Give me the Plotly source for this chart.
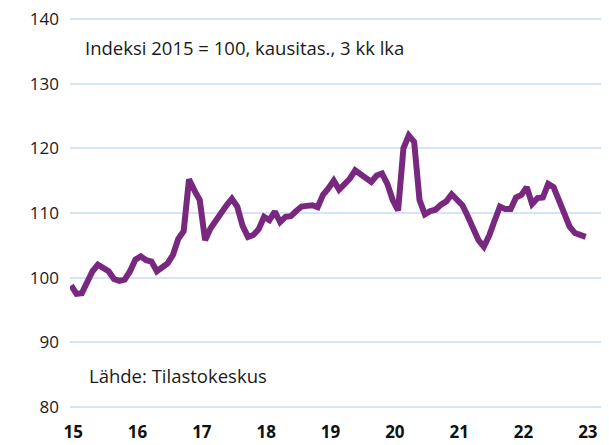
import plotly.graph_objects as go

# Kuukausittainen indeksi, tammikuu 2015 - tammikuu 2023 (2015 = 100)
index_values = [
    98.8, 97.5, 97.6, 99.5, 101.0, 102.0, 101.5, 101.0, 99.8, 99.5, 99.7, 101.0,
    102.8, 103.3, 102.7, 102.5, 101.0, 101.5, 102.2, 103.5, 106.0, 107.2, 115.2, 113.5,
    112.0, 105.8, 107.6, 108.8, 110.2, 111.2, 112.2, 111.0, 108.0, 106.3, 106.6, 107.5,
    109.4, 108.9, 110.2, 108.6, 109.4, 109.5, 110.3, 111.0, 111.1, 111.2, 110.9, 112.8,
    113.8, 115.0, 113.6, 114.5, 115.3, 116.6, 116.0, 115.3, 114.8, 115.8, 116.1, 114.5,
    112.0, 110.4, 120.0, 122.0, 121.0, 112.0, 109.8, 110.3, 110.5, 111.3, 111.8, 112.9,
    112.0, 111.2, 109.5, 107.5, 105.8, 104.8, 106.5, 108.8, 111.0, 110.6, 110.6, 112.4,
    112.8, 114.0, 111.4, 112.3, 112.4, 114.5, 114.0, 112.0, 109.6, 107.9, 106.9, 106.6,
    106.3,
]
year_labels = ["15", "16", "17", "18", "19", "20", "21", "22", "23"]
y_ticks = [80, 90, 100, 110, 120, 130, 140]

months = list(range(len(index_values)))

fig = go.Figure()
fig.add_trace(go.Scatter(
    x=months, y=index_values, mode="lines",
    line=dict(color="#78287F", width=6),
    hoverinfo="skip",
))

fig.add_annotation(text="Indeksi 2015 = 100, kausitas., 3 kk lka", xref="paper", yref="paper",
                   x=0.025, y=0.923, xanchor="left", yanchor="middle", showarrow=False,
                   font=dict(size=18.5, color="#1a1a1a"))
fig.add_annotation(text="Lähde: Tilastokeskus", xref="paper", yref="paper",
                   x=0.031, y=0.085, xanchor="left", yanchor="middle", showarrow=False,
                   font=dict(size=18.5, color="#1a1a1a"))

# sivun body-marginaali (8 px) huomioitu: kuvan koko 601x437
fig.update_layout(
    width=601, height=437,
    margin=dict(l=62, r=4, t=9.3, b=35.8),
    plot_bgcolor="white", paper_bgcolor="white",
    showlegend=False,
    font=dict(family="Open Sans, Liberation Sans, sans-serif", color="#1a1a1a"),
    xaxis=dict(
        range=[-0.2, 99.6],
        tickvals=[12 * i + 0.4 for i in range(len(year_labels))],
        ticktext=[f"<b>{t}</b>" for t in year_labels],
        showgrid=False, zeroline=False, showline=False, ticks="",
        tickfont=dict(size=17, color="#111111"),
        ticklabelstandoff=11, automargin=False, ticklabeloverflow="allow",
    ),
    yaxis=dict(
        range=[79.7, 140.3],
        tickvals=y_ticks,
        showgrid=True, gridcolor="#D6E4F7", gridwidth=2,
        zeroline=False, showline=False, ticks="",
        tickfont=dict(size=17, color="#1a1a1a"),
        ticklabelstandoff=10, automargin=False, ticklabeloverflow="allow",
    ),
)

fig.write_html("out.html")
